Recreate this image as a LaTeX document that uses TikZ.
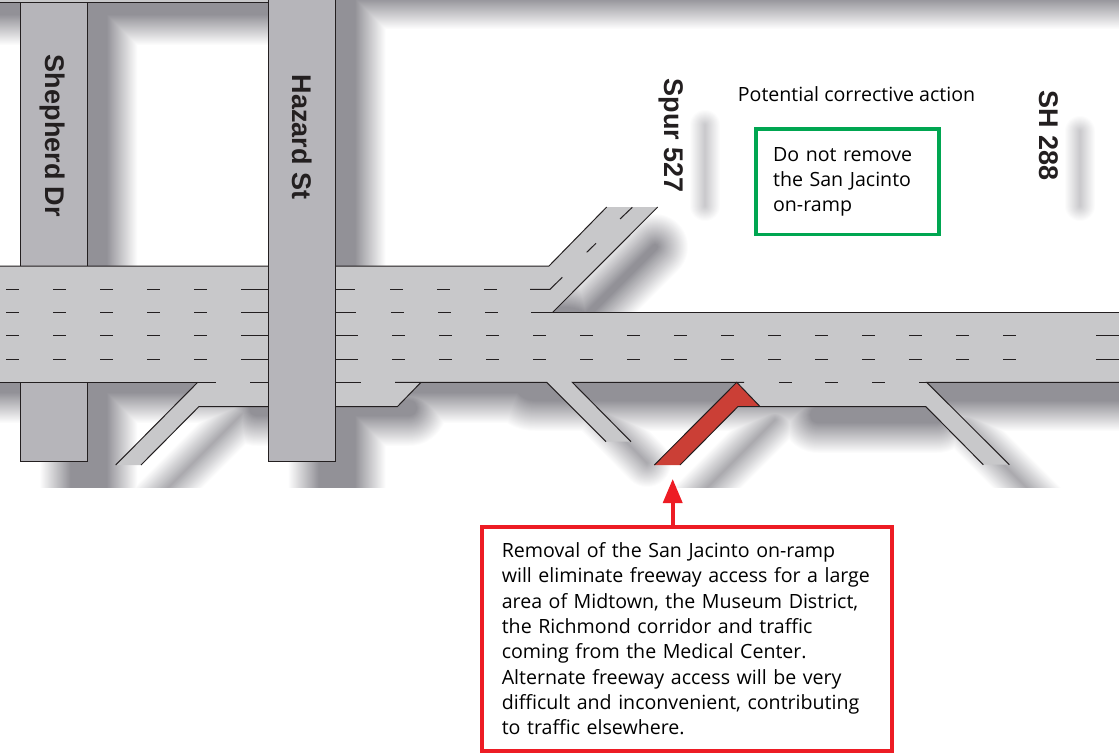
\documentclass[tikz,border=0pt]{standalone}
\usepackage{fontspec}
\setmainfont{Open Sans}
\setsansfont{Liberation Sans}
\usetikzlibrary{arrows.meta}
\definecolor{roadgray}{HTML}{C8C8CA}
\definecolor{crossgray}{HTML}{B6B5BA}
\definecolor{shadowgray}{HTML}{929197}
\definecolor{edgegray}{HTML}{231F20}
\definecolor{closedred}{HTML}{CB3F36}
\definecolor{boxred}{HTML}{ED1C24}
\definecolor{boxgreen}{HTML}{00A651}
\tikzset{
  road/.style={fill=roadgray},
  crossroad/.style={fill=crossgray,draw=edgegray,line width=1pt},
  edge/.style={draw=edgegray,line width=1pt},
  shadowline/.style={draw=shadowgray,line cap=round},
  roadname/.style={rotate=-90,text=edgegray,font=\fontsize{27}{27}\selectfont\sffamily\bfseries,inner sep=0pt},
  notebox/.style={draw,line width=3.8pt,align=left,inner xsep=0pt,inner ysep=0pt,text=black,
    font=\fontsize{19.6}{25.3}\selectfont},
}
\begin{document}
\begin{tikzpicture}[x=1pt,y=-1pt]
\useasboundingbox (0,0) rectangle (1119,753);
\begin{scope}
\clip (0,0) rectangle (1119,487);
\begin{scope}[shift={(35,28)}]
\foreach \d [count=\k] in {15,14,...,-15}{
  \pgfmathsetmacro\o{1/(32-\k)}
  \begin{scope}[transparency group,opacity=\o]
  \foreach \w/\ax/\ay/\bx/\by in {84/-80/-40/268/-40, 60/300/-44/1250/-44,
      67/53.9/-80/53.9/480, 67/302/-80/302/480,
      116/-80/322/530/322, 76/500/350/1250/350,
      46/222/380/374/380, 46/783/387/902/387,
      18/95/498/215/378, 18/560/382/612/435, 18/637/495/740/392,
      18/930/398/1030/498, 36/620/219/551/288,
      0/670/97/670/178, 0/1045/103/1045/178}{
    \pgfmathsetmacro\lw{\w+2*\d}
    \ifdim\lw pt>0pt
      \draw[shadowline,line width=\lw pt] (\ax,\ay) -- (\bx,\by);
    \fi
  }
  \end{scope}
}
\end{scope}
\end{scope}
% side streets under the freeway
\fill[road] (0,0) rectangle (268,2.3);
\draw[edge] (0,2.3) -- (268,2.3);
\draw[crossroad] (20.3,2.3) rectangle (87.5,461);
% freeway
\fill[road] (0,266) -- (549,266) -- (606.7,207) -- (657.7,207) -- (552.7,312.3) -- (1119,312.3)
  -- (1119,382.3) -- (926.7,382.3) -- (1009.3,464.7) -- (983.3,464.7) -- (925.7,406.5) -- (760,406.5)
  -- (736.7,382.3) -- (572.3,382.3) -- (631,441.7) -- (606,441.7) -- (546.7,382.3) -- (421,382.3)
  -- (397.5,406.5) -- (199,406.5) -- (141,465) -- (115.7,465) -- (197.7,382.3) -- (0,382.3) -- cycle;
\fill[closedred] (736.7,382.3) -- (760,406.5) -- (738,406.5) -- (680,465) -- (654.3,465) -- cycle;
\draw[edge] (0,266) -- (549,266) -- (606.7,207);
\draw[edge] (657.7,207) -- (552.7,312.3);
\draw[edge] (531,312.3) -- (1119,312.3);
\draw[edge] (0,382.3) -- (216,382.3);
\draw[edge] (250,382.3) -- (268,382.3);
\draw[edge] (197.7,382.3) -- (115.7,465);
\draw[edge] (141,465) -- (199,406.5) -- (397.5,406.5) -- (421,382.3);
\draw[edge] (336,382.3) -- (361,382.3);
\draw[edge] (395,382.3) -- (546.7,382.3) -- (606,441.7);
\draw[edge] (631,441.7) -- (572.3,382.3) -- (744,382.3);
\draw[edge] (654.3,465) -- (736.7,382.3) -- (760,406.5);
\draw[edge] (680,465) -- (738,406.5) -- (925.7,406.5) -- (983.3,464.7);
\draw[edge] (1009.3,464.7) -- (926.7,382.3) -- (1119,382.3);
\foreach \x in {779,825,872}{\draw[edge] (\x,382.3) -- ++(13,0);}
\draw[edge] (919,382.3) -- (927,382.3);
% lane marks
\foreach \y in {289.3,312.3,335.3,359.3}{
  \foreach \x in {6,53,100,147,194}{\draw[edge] (\x,\y) -- ++(13,0);}
  \draw[edge] (241,\y) -- (268,\y);
}
\foreach \y/\s in {289.3/0,312.3/1}{
  \foreach \x in {390,437,484}{\draw[edge] (\x+\s,\y) -- ++(13,0);}
  \draw[edge] (336,\y) -- (355+\s,\y);
}
\foreach \y in {335.3,359.3}{
  \foreach \x in {392,439,...,1049}{\draw[edge] (\x,\y) -- ++(13,0);}
  \draw[edge] (336,\y) -- (358,\y);
  \draw[edge] (1096,\y) -- (1119,\y);
}
\draw[edge] (530,289.3) -- (550,289.3) -- (562.3,277.3);
\draw[edge] (586.7,252.3) -- (596,243.3);
\draw[edge] (620,219) -- (632.3,207.3);
\draw[crossroad] (268.3,-2) rectangle (335.7,461);
% labels
\node[roadname] (shepherd) at (52,136) {Shepherd Dr};
\node[roadname] (hazard) at (302,137) {Hazard St};
\node[roadname] (spur) at (671,136) {Spur 527};
\node[roadname] (sh) at (1049,136) {SH 288};
\node[text=black,font=\fontsize{19.6}{25.3}\selectfont] (action) at (856.5,94) {Potential corrective action};
\node[notebox,draw=boxgreen,text width=149pt,minimum width=183.3pt,minimum height=105.5pt] (keep) at (847.6,181.7)
  {Do not remove\\the San Jacinto\\on-ramp};
\node[notebox,draw=boxred,text width=370pt,minimum width=410.3pt,minimum height=224.3pt] (removal) at (686.8,638.8)
  {Removal of the San Jacinto on-ramp\\will eliminate freeway access for a large\\area of Midtown, the Museum District,\\the Richmond corridor and traffic\\coming from the Medical Center.\\Alternate freeway access will be very\\difficult and inconvenient, contributing\\to traffic elsewhere.};
\coordinate (tip) at (672.7,479);
\draw[-{Triangle[width=19pt,length=24pt]},line width=3.6pt,draw=boxred,fill=boxred] (removal.north -| tip) -- (tip);
\end{tikzpicture}
\end{document}
